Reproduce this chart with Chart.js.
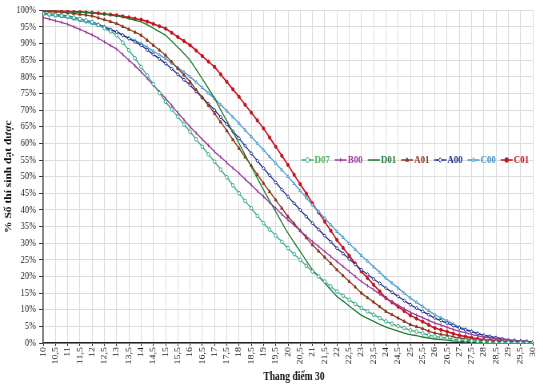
<!DOCTYPE html>
<html>
<head>
<meta charset="utf-8">
<script src="https://cdn.jsdelivr.net/npm/chart.js@4/dist/chart.umd.min.js"></script>
<style>
html,body{margin:0;padding:0;background:#fff;overflow:hidden;}
#wrap{width:543px;height:392px;position:relative;overflow:hidden;}
#c{position:absolute;left:0;top:0;transform:scaleX(0.8);transform-origin:0 0;}
</style>
</head>
<body>
<div id="wrap"><canvas id="c" width="679" height="392"></canvas></div>
<script>
// Score scale (0.25 steps)
const scores = [10,10.25,10.5,10.75,11,11.25,11.5,11.75,12,12.25,12.5,12.75,13,13.25,13.5,13.75,14,14.25,14.5,14.75,15,15.25,15.5,15.75,16,16.25,16.5,16.75,17,17.25,17.5,17.75,18,18.25,18.5,18.75,19,19.25,19.5,19.75,20,20.25,20.5,20.75,21,21.25,21.5,21.75,22,22.25,22.5,22.75,23,23.25,23.5,23.75,24,24.25,24.5,24.75,25,25.25,25.5,25.75,26,26.25,26.5,26.75,27,27.25,27.5,27.75,28,28.25,28.5,28.75,29,29.25,29.5,29.75,30];

const D07 = [99,98.8,98.6,98.4, 98.2,97.8,97.4,97.0, 96.5,95.6,94.6,93.6, 92.5,90.3,88,85.6, 83,80.4,77.8,75.1, 72.5,70.2,68,65.7, 63.5,61.2,59,56.7, 54.5,52.1,49.8,47.4, 45,42.7,40.5,38.2, 36,34.1,32.3,30.4, 28.5,26.7,25,23.2, 21.5,20,18.5,17, 15.5,14.2,13,11.7, 10.5,9.5,8.5,7.5, 6.5,5.8,5.1,4.5, 3.8,3.4,2.9,2.4, 2,1.7,1.45,1.2, 0.9,0.8,0.65,0.5, 0.4,0.32,0.25,0.17, 0.1,0.07,0.05,0.02, 0];
const B00 = [97.8,97.35,96.85,96.35, 95.8,95.05,94.25,93.45, 92.6,91.6,90.5,89.4, 88.3,86.7,85,83.3, 81.5,79.5,77.5,75.5, 73.5,71.4,69.2,67.1, 65,63.1,61.2,59.4, 57.5,55.9,54.2,52.6, 51,49.2,47.5,45.7, 44,42.2,40.5,38.7, 37,35.4,33.7,32.1, 30.5,29,27.5,26, 24.5,23,21.5,20, 18.5,17.2,16,14.7, 13.5,12.4,11.3,10.3, 9.2,8.4,7.6,6.8, 6,5.4,4.7,4.1, 3.5,3.1,2.6,2.2, 1.8,1.55,1.3,1.05, 0.8,0.68,0.55,0.42, 0.3];
const D01 = [99.8,99.75,99.7,99.65, 99.6,99.5,99.4,99.3, 99.2,99.0,98.8,98.55, 98.3,97.9,97.5,97.0, 96.5,95.6,94.6,93.6, 92.5,90.7,88.9,87.0, 85,82.2,79.4,76.5, 73.5,70.1,66.8,63.4, 60,56.5,53,49.5, 46,42.7,39.5,36.2, 33,30.2,27.5,24.7, 22,20,18,16, 14,12.6,11.1,9.7, 8.3,7.4,6.5,5.6, 4.8,4.2,3.6,3.0, 2.5,2.2,1.8,1.5, 1.2,1.0,0.85,0.65, 0.5,0.42,0.35,0.27, 0.2,0.17,0.15,0.12, 0.1,0.07,0.05,0.02, 0];
const A01 = [99.7,99.6,99.5,99.4, 99.3,99.05,98.8,98.55, 98.3,97.7,97.2,96.6, 96,95.1,94.3,93.4, 92.5,91,89.5,88, 86.5,84.5,82.5,80.5, 78.5,76.1,73.8,71.4, 69,66.4,63.8,61.1, 58.5,55.9,53.3,50.6, 48,45.5,43,40.5, 38,35.9,33.8,31.6, 29.5,27.6,25.8,23.9, 22,20.2,18.5,16.8, 15,13.6,12.3,10.9, 9.5,8.5,7.5,6.5, 5.5,4.9,4.3,3.6, 3,2.6,2.3,1.9, 1.5,1.3,1.05,0.83, 0.6,0.5,0.4,0.3, 0.2,0.17,0.15,0.12, 0.1];
const A00 = [99.2,99,98.75,98.5, 98.3,97.85,97.4,96.95, 96.5,95.75,95,94.25, 93.5,92.5,91.5,90.5, 89.5,88.1,86.75,85.4, 84,82.4,80.75,79.1, 77.5,75.6,73.75,71.9, 70,67.9,65.75,63.6, 61.5,59.25,57,54.75, 52.5,50.4,48.25,46.1, 44,42,40,38, 36,34.1,32.25,30.4, 28.5,26.9,25.25,23.6, 22,20.6,19.25,17.9, 16.5,15.25,14,12.75, 11.5,10.5,9.5,8.5, 7.5,6.75,6,5.25, 4.5,3.95,3.4,2.85, 2.3,1.95,1.6,1.25, 0.9,0.75,0.6,0.45, 0.3];
const C00 = [98.8,98.55,98.3,98.05, 97.8,97.35,96.9,96.45, 96,95.4,94.75,94.1, 93.5,92.6,91.75,90.9, 90,88.9,87.75,86.6, 85.5,84.1,82.75,81.4, 80,78.4,76.75,75.1, 73.5,71.6,69.75,67.9, 66,64,62,60, 58,56,54,52, 50,47.9,45.75,43.6, 41.5,39.5,37.5,35.5, 33.5,31.7,29.9,28.1, 26.3,24.6,22.9,21.2, 19.5,18,16.5,15, 13.5,12.25,11,9.75, 8.5,7.6,6.65,5.7, 4.8,4.2,3.55,2.9, 2.3,1.95,1.6,1.25, 0.9,0.75,0.6,0.45, 0.3];
const C01 = [99.9,99.85,99.8,99.75, 99.7,99.6,99.5,99.4, 99.3,99.1,98.9,98.7, 98.5,98.2,97.85,97.5, 97.2,96.6,95.9,95.2, 94.5,93.25,92,90.75, 89.5,87.9,86.25,84.6, 83,80.75,78.5,76.25, 74,71.6,69.25,66.9, 64.5,61.75,59,56.25, 53.5,50.6,47.75,44.9, 42,39.25,36.5,33.75, 31,28.6,26.25,23.9, 21.5,19.5,17.5,15.5, 13.5,12.2,10.9,9.6, 8.3,7.35,6.4,5.45, 4.5,3.95,3.4,2.85, 2.3,1.95,1.6,1.3, 1.0,0.85,0.7,0.55, 0.4,0.3,0.25,0.15, 0.1];

const seriesNames = ['D07','B00','D01','A01','A00','C00','C01'];
const seriesValues = [D07,B00,D01,A01,A00,C00,C01];
const seriesColors = ['#3aa98a','#9a3a9a','#1f7a32','#8a3a1e','#1f2c8c','#4a9cd0','#c4141c'];
const seriesText   = ['#4caf5a','#9a3a9a','#1f7a32','#8a3a1e','#1f2c8c','#3f8fc8','#c4141c'];
const pointStyles  = ['circle','line','circle','triangle','rectRot','triangle','circle'];
const pointFills   = ['#ffffff',null,null,null,'#ffffff','#ffffff',null];
const pointRadii   = [1.8,1.8,0,1.8,1.8,1.8,1.6];
const xTitle = 'Thang điểm 30';

const FONT = "'Liberation Serif','Times New Roman',serif";

const datasets = seriesNames.map((n,i)=>({
  label:n,
  data: scores.map((s,k)=>({x:s,y:seriesValues[i][k]})),
  borderColor: seriesColors[i],
  backgroundColor: pointFills[i] || seriesColors[i],
  pointBackgroundColor: pointFills[i] || seriesColors[i],
  pointBorderColor: seriesColors[i],
  pointStyle: pointStyles[i],
  pointRotation: i===1 ? 90 : 0,
  pointRadius: pointRadii[i],
  pointBorderWidth: 1,
  borderWidth: i===6 ? 1.6 : 1.3,
  tension: 0.2,
  fill:false
}));

const insideLegend = {
  id:'insideLegend',
  afterDatasetsDraw(chart){
    const ctx = chart.ctx;
    const xs = chart.scales.x, ys = chart.scales.y;
    let x = xs.getPixelForValue(20.55);
    const y = ys.getPixelForValue(55);
    ctx.save();
    ctx.font = "bold 11px " + FONT;
    ctx.textBaseline = 'middle';
    chart.data.datasets.forEach((ds,i)=>{
      ctx.strokeStyle = ds.borderColor;
      ctx.lineWidth = 1.5;
      ctx.beginPath(); ctx.moveTo(x, y); ctx.lineTo(x+15, y); ctx.stroke();
      if (pointRadii[i] > 0) {
        ctx.fillStyle = ds.pointBackgroundColor;
        ctx.strokeStyle = ds.borderColor;
        ctx.lineWidth = 1;
        Chart.helpers.drawPoint(ctx, {pointStyle: ds.pointStyle, radius: 2.3, rotation: ds.pointRotation, borderWidth:1}, x+7.5, y);
      }
      ctx.fillStyle = seriesText[i];
      ctx.fillText(ds.label, x+16.5, y+0.5);
      x += 41.5;
    });
    // x-axis title (slightly right of the plot centre, as in the original)
    ctx.fillStyle = '#111';
    ctx.font = "bold 12px " + FONT;
    ctx.textAlign = 'center';
    ctx.fillText(xTitle, (xs.left + xs.right)/2 + 7.5, 377);
    ctx.restore();
  }
};

new Chart(document.getElementById('c'), {
  type:'line',
  data:{datasets},
  plugins:[insideLegend],
  options:{
    responsive:false,
    animation:false,
    devicePixelRatio:1,
    layout:{padding:{top:9,right:9,left:0,bottom:0}},
    plugins:{legend:{display:false},tooltip:{enabled:false}},
    scales:{
      x:{
        type:'linear', min:10, max:30,
        afterFit(s){ s.height = 49; },
        grid:{color:'#dcdcdc', lineWidth:1, tickLength:3, tickColor:'#333'},
        border:{color:'#222', width:1.5},
        ticks:{stepSize:0.5, autoSkip:false, maxTicksLimit:100, minRotation:90, maxRotation:90, padding:1,
          color:'#222', font:{family:FONT, size:10},
          callback:(v)=>String(v).replace('.',',')},
        title:{display:false}
      },
      y:{
        min:0, max:100,
        afterFit(s){ s.width = 54; },
        grid:{color:'#dcdcdc', lineWidth:1, tickLength:5, tickColor:'#333'},
        border:{color:'#444', width:1.5},
        ticks:{stepSize:5, padding:4, color:'#222', font:{family:FONT, size:10.5}, callback:(v)=>v+'%'},
        title:{display:true, text:'% Số thí sinh đạt được', color:'#111', font:{family:FONT, size:11.5, weight:'bold'}, padding:{top:4,bottom:0}}
      }
    }
  }
});
</script>
</body>
</html>
